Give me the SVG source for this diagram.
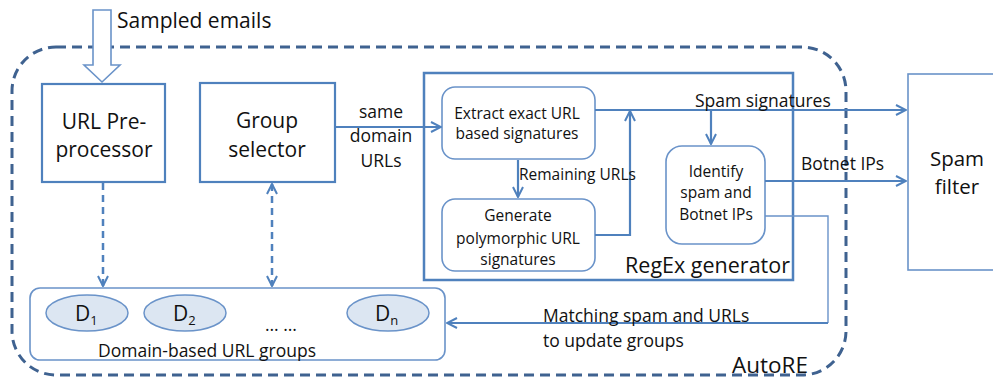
<svg xmlns="http://www.w3.org/2000/svg" width="993" height="381" viewBox="0 0 993 381">
<defs>
<marker id="ah" viewBox="0 0 12 12" refX="11" refY="6" markerWidth="12" markerHeight="12" markerUnits="userSpaceOnUse" orient="auto-start-reverse">
<path d="M1,1 L11,6 L1,11" fill="none" stroke="#4f81bd" stroke-width="2"/>
</marker>
</defs>
<style>
text{font-family:"Open Sans","Liberation Sans",sans-serif;fill:#111;}
.box{fill:#fff;stroke:#4f81bd;stroke-width:2.2;}
.rbox{fill:#fff;stroke:#6a93c9;stroke-width:1.6;}
.ln{fill:none;stroke:#4f81bd;stroke-width:2.2;}
.thin{fill:none;stroke:#6a93c9;stroke-width:1.4;}
.dash{fill:none;stroke:#4f81bd;stroke-width:2.5;stroke-dasharray:7,5;}
.ell{fill:#dce6f2;stroke:#6a93c9;stroke-width:1.5;}
.big{font-size:21px;}
.mid{font-size:17.5px;}
.sm{font-size:15.5px;}
</style>
<rect x="12" y="47" width="834" height="328" rx="44" ry="44" fill="none" stroke="#3f6290" stroke-width="3" stroke-dasharray="10,6"/>
<g id="sampled">
<path d="M93,10 L111,10 L111,65 L120,65 L102,82 L84,65 L93,65 Z" fill="#fff" stroke="#6a93c9" stroke-width="1.6"/>
<text x="117" y="28" class="big">Sampled emails</text>
</g>
<g id="preproc">
<rect x="42" y="84" width="123" height="98" class="box"/>
<text x="104" y="129" class="big" text-anchor="middle">URL Pre-</text>
<text x="104" y="157" class="big" text-anchor="middle">processor</text>
</g>
<g id="selector">
<rect x="200" y="83" width="135" height="99" class="box"/>
<text x="267" y="128" class="big" text-anchor="middle">Group</text>
<text x="267" y="157" class="big" text-anchor="middle">selector</text>
</g>
<g id="regex">
<rect x="424" y="73" width="369" height="207" fill="none" stroke="#4f81bd" stroke-width="2.5"/>
<text x="790" y="273" font-size="21.5" text-anchor="end">RegEx generator</text>
</g>
<g id="extract">
<rect x="442" y="87" width="153" height="72" rx="13" class="rbox"/>
<text x="517" y="119" class="sm" text-anchor="middle">Extract exact URL</text>
<text x="517" y="139" class="sm" text-anchor="middle">based signatures</text>
</g>
<g id="generate">
<rect x="442" y="199" width="153" height="72" rx="13" class="rbox"/>
<text x="518" y="221" class="sm" text-anchor="middle">Generate</text>
<text x="518" y="244" class="sm" text-anchor="middle">polymorphic URL</text>
<text x="518" y="265" class="sm" text-anchor="middle">signatures</text>
</g>
<g id="identify">
<rect x="666" y="146" width="99" height="98" rx="16" class="rbox"/>
<text x="716" y="177" class="sm" text-anchor="middle">Identify</text>
<text x="716" y="198" class="sm" text-anchor="middle">spam and</text>
<text x="716" y="220" class="sm" text-anchor="middle">Botnet IPs</text>
</g>
<g id="spamfilter">
<rect x="908" y="74" width="95" height="196" fill="#fff" stroke="#6a93c9" stroke-width="1.6"/>
<text x="957" y="166" font-size="20.5" text-anchor="middle">Spam</text>
<text x="957" y="194" font-size="20.5" text-anchor="middle">filter</text>
</g>
<g id="groups">
<rect x="30" y="288" width="415" height="72" rx="10" class="rbox"/>
<ellipse cx="87" cy="313" rx="41" ry="18" class="ell"/>
<ellipse cx="185" cy="313" rx="41" ry="18" class="ell"/>
<ellipse cx="388" cy="313" rx="41" ry="18" class="ell"/>
<text x="75" y="321" class="big">D<tspan font-size="13" dy="4">1</tspan></text>
<text x="173" y="321" class="big">D<tspan font-size="13" dy="4">2</tspan></text>
<text x="375" y="321" class="big">D<tspan font-size="13" dy="4">n</tspan></text>
<text x="265" y="331" class="mid">… …</text>
<text x="207" y="357" class="mid" text-anchor="middle">Domain-based URL groups</text>
</g>
<g id="connectors">
<path d="M335,127 L441,127" class="ln" marker-end="url(#ah)"/>
<path d="M103,183 L103,286" class="dash" marker-end="url(#ah)"/>
<path d="M272,184 L272,286" class="dash" marker-start="url(#ah)" marker-end="url(#ah)"/>
<path d="M518,160 L518,197" class="ln" marker-end="url(#ah)"/>
<path d="M595,235 L630,235 L630,111" class="ln" marker-end="url(#ah)"/>
<path d="M595,110 L906,110" class="ln" marker-end="url(#ah)"/>
<path d="M711,110 L711,144" class="ln" marker-end="url(#ah)"/>
<path d="M765,181 L906,181" class="ln" marker-end="url(#ah)"/>
<path d="M765,216 L828,216 L828,323" class="thin"/>
<path d="M828,323 L447,323" class="ln" marker-end="url(#ah)"/>
</g>
<g id="labels">
<text x="381" y="118" class="mid" text-anchor="middle">same</text>
<text x="381" y="142" class="mid" text-anchor="middle">domain</text>
<text x="381" y="167" class="mid" text-anchor="middle">URLs</text>
<text x="519" y="180" class="sm">Remaining URLs</text>
<text x="695" y="107" class="mid">Spam signatures</text>
<text x="801" y="170" class="mid">Botnet IPs</text>
<text x="543" y="322" class="mid">Matching spam and URLs</text>
<text x="543" y="347" class="mid">to update groups</text>
<text x="732" y="373" font-size="22.5">AutoRE</text>
</g>
</svg>
